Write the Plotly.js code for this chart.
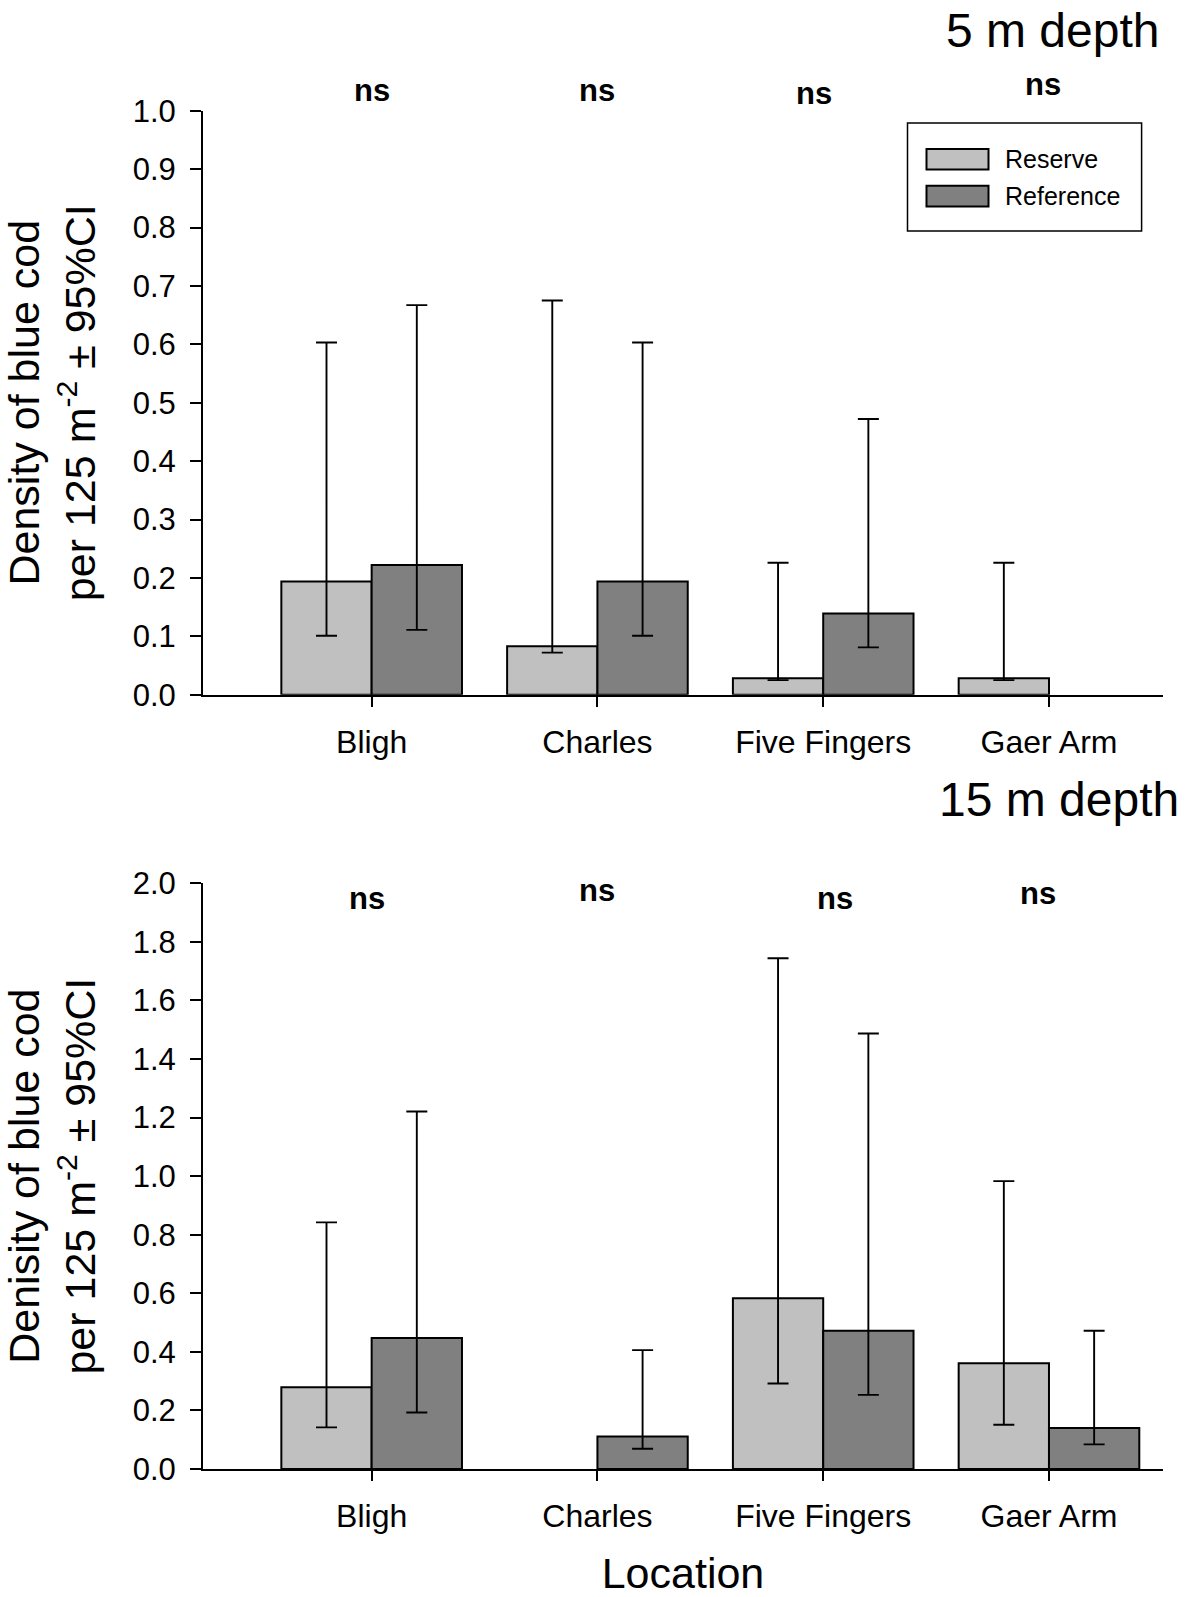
<!DOCTYPE html>
<html>
<head>
<meta charset="utf-8">
<script src="https://cdn.plot.ly/plotly-3.0.1.min.js"></script>
<style>
  html, body { margin: 0; padding: 0; background: #ffffff; }
  #chart { width: 1193px; height: 1597px; }
</style>
</head>
<body>
<div id="chart"></div>
<script>
// ---------------- DATA ----------------
const categories = ['Bligh', 'Charles', 'Five Fingers', 'Gaer Arm'];
const seriesNames = ['Reserve', 'Reference'];
const panelTitles = ['5 m depth', '15 m depth'];

// 5 m depth
const reserve5       = [0.194, 0.083, 0.028, 0.028];
const reserve5Upper  = [0.603, 0.675, 0.226, 0.226];
const reserve5Lower  = [0.101, 0.072, 0.025, 0.025];
const reference5      = [0.222, 0.194, 0.139, null];
const reference5Upper = [0.667, 0.603, 0.472, null];
const reference5Lower = [0.111, 0.101, 0.081, null];
const significance5   = ['ns', 'ns', 'ns', 'ns'];

// 15 m depth
const reserve15       = [0.279, null, 0.583, 0.361];
const reserve15Upper  = [0.842, null, 1.744, 0.983];
const reserve15Lower  = [0.142, null, 0.292, 0.151];
const reference15      = [0.447, 0.111, 0.472, 0.140];
const reference15Upper = [1.221, 0.406, 1.487, 0.472];
const reference15Lower = [0.193, 0.069, 0.253, 0.084];
const significance15   = ['ns', 'ns', 'ns', 'ns'];

const yTitle5  = 'Density of blue cod<br>per 125 m<sup>-2</sup> ± 95%CI';
const yTitle15 = 'Denisity of blue cod<br>per 125 m<sup>-2</sup> ± 95%CI';
const xTitle   = 'Location';

// ---------------- STYLE ----------------
const W = 1193, H = 1597;
const FONT = 'Liberation Sans, Arial, Helvetica, sans-serif';
const colors = ['#c0c0c0', '#808080'];
const px = x => x / W;
const py = y => 1 - y / H;

function errPlus(v, up)  { return v.map((d, i) => (d === null || up[i] === null) ? null : +(up[i] - d).toFixed(4)); }
function errMinus(v, lo) { return v.map((d, i) => (d === null || lo[i] === null) ? null : +(d - lo[i]).toFixed(4)); }

function barTrace(vals, up, lo, idx, xa, ya) {
  return {
    type: 'bar',
    name: seriesNames[idx],
    x: categories,
    y: vals,
    xaxis: xa, yaxis: ya,
    marker: { color: colors[idx], line: { color: '#000000', width: 2 } },
    error_y: {
      type: 'data', symmetric: false,
      array: errPlus(vals, up), arrayminus: errMinus(vals, lo),
      color: '#000000', thickness: 1.9, width: 10.5
    },
    showlegend: false,
    hoverinfo: 'skip'
  };
}

const data = [
  barTrace(reserve5, reserve5Upper, reserve5Lower, 0, 'x', 'y'),
  barTrace(reference5, reference5Upper, reference5Lower, 1, 'x', 'y'),
  barTrace(reserve15, reserve15Upper, reserve15Lower, 0, 'x2', 'y2'),
  barTrace(reference15, reference15Upper, reference15Lower, 1, 'x2', 'y2')
];

const xCommon = {
  range: [-0.747, 3.505],
  showline: true, linecolor: '#000', linewidth: 2,
  ticks: 'outside', ticklen: 10, tickwidth: 2, tickcolor: '#000',
  showgrid: false, zeroline: false,
  tickfont: { family: FONT, size: 32, color: '#000' },
  ticklabelstandoff: 8,
  automargin: false, fixedrange: true
};
const yCommon = {
  showline: true, linecolor: '#000', linewidth: 2,
  ticks: 'outside', ticklen: 11, tickwidth: 2, tickcolor: '#000',
  showgrid: false, zeroline: false,
  tickfont: { family: FONT, size: 31, color: '#000' },
  tickformat: '.1f',
  ticklabelstandoff: 8,
  automargin: false, fixedrange: true
};

const xDomain = [px(203), px(1163)];

const layout = {
  width: W, height: H,
  margin: { l: 0, r: 0, t: 0, b: 0 },
  paper_bgcolor: '#ffffff', plot_bgcolor: '#ffffff',
  font: { family: FONT, color: '#000' },
  barmode: 'group', bargap: 0.2, bargroupgap: 0,
  showlegend: false,
  xaxis: Object.assign({}, xCommon, { domain: xDomain, anchor: 'y' }),
  yaxis: Object.assign({}, yCommon, {
    domain: [py(694.7), py(110.7)], range: [0, 1], dtick: 0.1, anchor: 'x',
    title: { text: yTitle5, font: { family: FONT, size: 43, color: '#000' }, standoff: 26 }
  }),
  xaxis2: Object.assign({}, xCommon, {
    domain: xDomain, anchor: 'y2',
    title: { text: xTitle, font: { family: FONT, size: 43, color: '#000' }, standoff: 30 }
  }),
  yaxis2: Object.assign({}, yCommon, {
    domain: [py(1469), py(883.3)], range: [0, 2], dtick: 0.2, anchor: 'x2',
    title: { text: yTitle15, font: { family: FONT, size: 43, color: '#000' }, standoff: 26 }
  }),
  shapes: [],
  annotations: []
};

// panel titles
layout.annotations.push({
  text: panelTitles[0], xref: 'paper', yref: 'paper', x: px(1161), y: py(31),
  xanchor: 'right', yanchor: 'middle', showarrow: false,
  font: { family: FONT, size: 48, color: '#000' }
});
layout.annotations.push({
  text: panelTitles[1], xref: 'paper', yref: 'paper', x: px(1181), y: py(799),
  xanchor: 'right', yanchor: 'middle', showarrow: false,
  font: { family: FONT, size: 48, color: '#000' }
});

// significance labels (positions in category units / axis-domain fraction)
const nsPos5  = [[0.0, 1.035], [1.0, 1.035], [1.96, 1.030], [2.975, 1.045]];
const nsPos15 = [[-0.02, 0.974], [1.0, 0.987], [2.05, 0.974], [2.95, 0.982]];
significance5.forEach((t, i) => layout.annotations.push({
  text: '<b>' + t + '</b>', xref: 'x', yref: 'y domain', x: nsPos5[i][0], y: nsPos5[i][1],
  xanchor: 'center', yanchor: 'middle', showarrow: false,
  font: { family: FONT, size: 31, color: '#000' }
}));
significance15.forEach((t, i) => layout.annotations.push({
  text: '<b>' + t + '</b>', xref: 'x2', yref: 'y2 domain', x: nsPos15[i][0], y: nsPos15[i][1],
  xanchor: 'center', yanchor: 'middle', showarrow: false,
  font: { family: FONT, size: 31, color: '#000' }
}));

// custom legend (top panel)
layout.shapes.push({
  type: 'rect', xref: 'paper', yref: 'paper',
  x0: px(907.5), x1: px(1141.6), y0: py(231), y1: py(123),
  line: { color: '#000', width: 1.5 }, fillcolor: 'rgba(0,0,0,0)'
});
const legendRows = [159.3, 196.1];
seriesNames.forEach((name, i) => {
  const cy = legendRows[i];
  layout.shapes.push({
    type: 'rect', xref: 'paper', yref: 'paper',
    x0: px(926.5), x1: px(988.5), y0: py(cy + 10.3), y1: py(cy - 10.3),
    line: { color: '#000', width: 2 }, fillcolor: colors[i]
  });
  layout.annotations.push({
    text: name, xref: 'paper', yref: 'paper', x: px(1003), y: py(cy),
    xanchor: 'left', yanchor: 'middle', showarrow: false,
    font: { family: FONT, size: 25, color: '#000' }
  });
});

Plotly.newPlot('chart', data, layout, { staticPlot: true, displayModeBar: false });
</script>
</body>
</html>
